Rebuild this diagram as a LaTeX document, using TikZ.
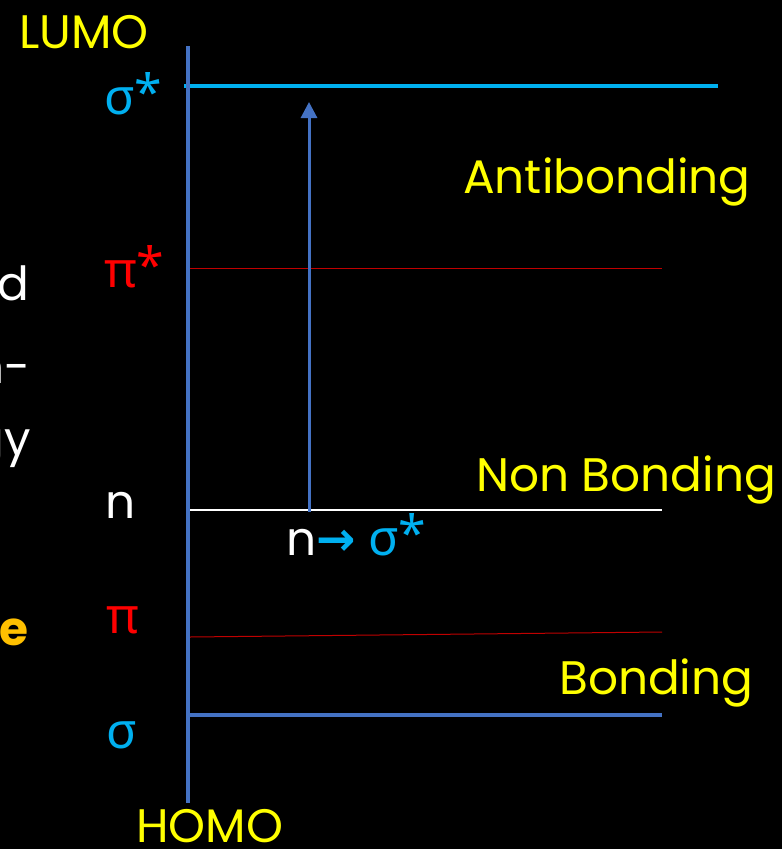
\documentclass[tikz,border=0pt]{standalone}
\usepackage{fontspec}
\setmainfont{Poppins}
\newfontfamily\gr{Noto Sans}
\newfontfamily\sym{DejaVu Sans}
\usetikzlibrary{arrows.meta}
\definecolor{axisblue}{HTML}{4472C4}
\definecolor{cyanc}{HTML}{00B0F0}
\definecolor{yel}{HTML}{FFFF00}
\definecolor{redl}{HTML}{FF0000}
\definecolor{redline}{HTML}{C00000}
\definecolor{orangec}{HTML}{FFC000}
\newcommand{\bigstar}{\raisebox{4pt}{\gr\fontsize{50}{56}\selectfont *}}
\tikzset{
  lbl/.style={inner sep=0pt, anchor=base west, font=\fontsize{47}{54}\selectfont},
  cut/.style={inner sep=0pt, anchor=base east, font=\fontsize{47}{54}\selectfont, text=white},
  gl/.style={inner sep=0pt, anchor=base west, font=\fontsize{50}{56}\selectfont\gr},
}
\begin{document}
\begin{tikzpicture}[x=1pt,y=-1pt]
\fill[black] (0,0) rectangle (782,849);
\clip (0,0) rectangle (782,849);
% coordinates
\coordinate (axtop) at (188,46);
\coordinate (axbot) at (188,803);
\coordinate (ss1) at (184,86);
\coordinate (ss2) at (718,86);
\coordinate (ps1) at (190,268);
\coordinate (ps2) at (662,268);
\coordinate (n1) at (190,510);
\coordinate (n2) at (662,510);
\coordinate (p1) at (190,637);
\coordinate (p2) at (662,632);
\coordinate (s1) at (190,715);
\coordinate (s2) at (662,715);
\coordinate (arrS) at (309,512);
\coordinate (arrE) at (309,102);
% levels
\draw[cyanc, line width=4pt] (ss1) -- (ss2);
\draw[redline, line width=1pt] (ps1) -- (ps2);
\draw[white, line width=1.3pt] (n1) -- (n2);
\draw[redline, line width=1pt] (p1) -- (p2);
\draw[axisblue, line width=4pt] (s1) -- (s2);
\draw[axisblue, line width=4pt] (axtop) -- (axbot);
\draw[axisblue, line width=3pt, -{Triangle[length=16pt,width=16pt]}] (arrS) -- (arrE);
% labels
\node[lbl, text=yel] (lumo) at (19,48) {LUMO};
\node[lbl, text=yel, text depth=0pt] (homo) at (136,842) {HOMO};
\node[lbl, text=yel] (anti) at (463,193) {Antibonding};
\node[lbl, text=yel] (nonb) at (476,491) {Non Bonding};
\node[lbl, text=yel] (bond) at (559,694) {Bonding};
\node[gl, text=cyanc] (lss) at (104,114) {σ\bigstar};
\node[gl, text=redl] (lps) at (104,287) {π\bigstar};
\node[lbl, text=white] (ln) at (105,518) {n};
\node[gl, text=redl] (lp) at (106,633) {π};
\node[gl, text=cyanc] (ls) at (106,748) {σ};
\node[lbl, text=white] (trans) at (286,555) {n{\sym\bfseries\color{cyanc}→} {\gr\fontsize{50}{56}\selectfont\color{cyanc}σ\bigstar}};
% cut-off texts at left edge
\node[cut] (c1) at (29,300) {d};
\node[cut] (c2) at (31,383) {n-};
\node[cut] (c3) at (31,455) {gy};
\node[cut, text=orangec, font=\fontsize{47}{54}\selectfont\bfseries] (c4) at (29,645) {e};
\end{tikzpicture}
\end{document}
